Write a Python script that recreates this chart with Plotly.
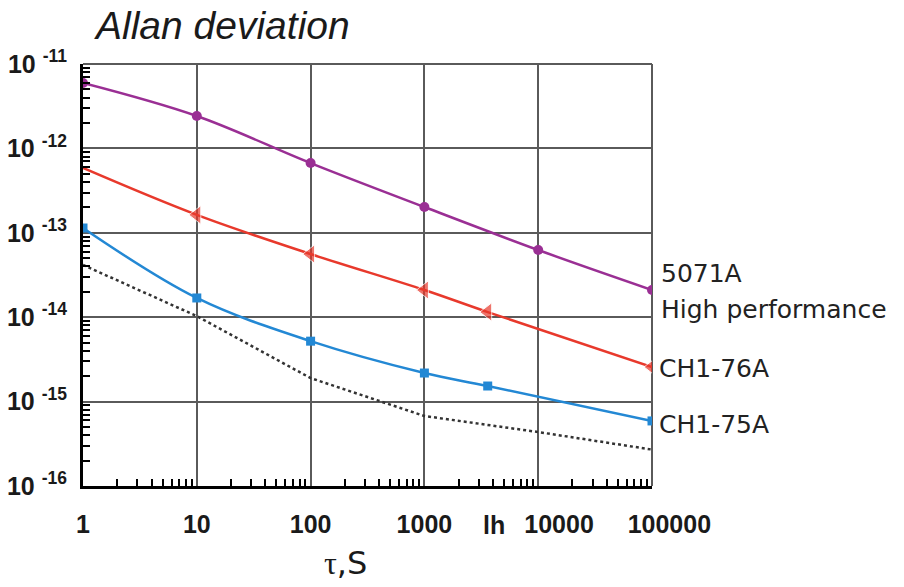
import math
import plotly.graph_objects as go

# ---- data ----
tau_5071a = [1, 10, 100, 1000, 10000, 100000]
adev_5071a = [5.96e-12, 2.42e-12, 6.7e-13, 2.02e-13, 6.25e-14, 2.1e-14]

tau_76a = [1, 10, 100, 1000, 3600, 100000]
adev_76a = [5.86e-13, 1.63e-13, 5.6e-14, 2.1e-14, 1.15e-14, 2.57e-15]
marker_76a = [False, True, True, True, True, True]

tau_75a = [1, 10, 100, 1000, 3600, 100000]
adev_75a = [1.14e-13, 1.69e-14, 5.2e-15, 2.18e-15, 1.53e-15, 5.9e-16]

tau_floor = [1, 10, 100, 1000, 10000, 100000]
adev_floor = [4.16e-14, 1.03e-14, 1.9e-15, 6.75e-16, 4.36e-16, 2.7e-16]

x_tick_vals = [1, 10, 100, 1000, 10000, 100000]
x_tick_text = ["1", "10", "100", "1000", "10000", "100000"]
x_tick_pad = [0, 0, 0, 0, 6, 5]   # labels drawn a little right of their gridline
one_hour = 3600
one_hour_label = "lh"

y_exponents = [-16, -15, -14, -13, -12, -11]

series_labels = ["5071A", "High performance", "CH1-76A", "CH1-75A"]
title_text = "Allan deviation"

# ---- build figure ----
PURPLE = "#9a2f94"
RED = "#e8392c"
BLUE = "#2388d4"
GRID = "#5a5a5a"

fig = go.Figure()

fig.add_trace(go.Scatter(
    x=tau_floor, y=adev_floor, mode="lines",
    line=dict(color="#333333", width=2.5, dash="dot"),
    hoverinfo="skip", showlegend=False))

fig.add_trace(go.Scatter(
    x=tau_5071a, y=adev_5071a, mode="lines+markers",
    line=dict(color=PURPLE, width=2.5, shape="spline"),
    marker=dict(symbol="circle", size=10, color=PURPLE),
    showlegend=False))

fig.add_trace(go.Scatter(
    x=tau_76a, y=adev_76a, mode="lines+markers",
    line=dict(color=RED, width=2.5, shape="spline"),
    marker=dict(symbol="triangle-left", color=RED,
                size=[16 if m else 0 for m in marker_76a]),
    showlegend=False))

fig.add_trace(go.Scatter(
    x=tau_75a, y=adev_75a, mode="lines+markers",
    line=dict(color=BLUE, width=2.5, shape="spline"),
    marker=dict(symbol="square", size=9, color=BLUE),
    showlegend=False))

minor_x = [m * 10 ** d for d in range(0, 5) for m in range(2, 10)]
minor_y = [m * 10.0 ** d for d in range(-16, -11) for m in range(2, 10)]

tick_font = dict(family="Liberation Sans", size=25, color="#1a1a1a", weight="bold")

fig.update_xaxes(
    type="log", range=[0, 5], automargin=False,
    tickmode="array", tickvals=x_tick_vals,
    ticktext=["\u00a0" * p + t for t, p in zip(x_tick_text, x_tick_pad)],
    tickangle=0,
    ticks="", tickfont=tick_font, ticklabelstandoff=14,
    showgrid=True, gridcolor=GRID, gridwidth=2,
    showline=True, linecolor="black", linewidth=3, zeroline=False,
    minor=dict(tickmode="array", tickvals=minor_x, ticks="inside",
               ticklen=7, tickwidth=2, tickcolor="black", showgrid=False),
)
fig.update_yaxes(
    type="log", range=[-16, -11], automargin=False,
    tickmode="array", tickvals=[10.0 ** e for e in y_exponents],
    ticktext=[f"10 <sup>{e}</sup>" for e in y_exponents],
    ticks="", tickfont=tick_font, ticklabelstandoff=8,
    showgrid=True, gridcolor=GRID, gridwidth=2,
    showline=True, linecolor="black", linewidth=3, zeroline=False,
    minor=dict(tickmode="array", tickvals=minor_y, ticks="inside",
               ticklen=7, tickwidth=2, tickcolor="black", showgrid=False),
)

label_font = dict(family="DejaVu Sans", size=25, color="#222222")
ann = [
    dict(text=title_text, xref="paper", yref="paper", x=0.0158, y=1.091,
         xanchor="left", yanchor="middle", showarrow=False,
         font=dict(family="Liberation Sans", size=39, color="#1a1a1a", style="italic")),
    dict(text=series_labels[0], xref="paper", yref="paper", x=1.012, y=0.5047,
         xanchor="left", yanchor="middle", showarrow=False, font=label_font),
    dict(text=series_labels[1], xref="paper", yref="paper", x=1.012, y=0.4194,
         xanchor="left", yanchor="middle", showarrow=False, font=label_font),
    dict(text=series_labels[2], xref="paper", yref="paper", x=1.008, y=0.2796,
         xanchor="left", yanchor="middle", showarrow=False, font=label_font),
    dict(text=series_labels[3], xref="paper", yref="paper", x=1.008, y=0.1469,
         xanchor="left", yanchor="middle", showarrow=False, font=label_font),
    dict(text=one_hour_label, xref="x", yref="paper", x=math.log10(one_hour), y=-0.0924,
         xshift=6, xanchor="center", yanchor="middle", showarrow=False, font=tick_font),
    dict(text="<span style='font-family:Liberation Serif'>τ</span>,S",
         xref="paper", yref="paper", x=0.462, y=-0.182,
         xanchor="center", yanchor="middle", showarrow=False,
         font=dict(family="DejaVu Sans", size=32, color="#1a1a1a")),
]

fig.update_layout(
    width=904, height=587,
    margin=dict(l=83, r=252, t=64, b=101),
    paper_bgcolor="white", plot_bgcolor="white",
    annotations=ann,
    shapes=[
        dict(type="line", xref="paper", yref="paper", x0=0, x1=1, y0=1, y1=1,
             line=dict(color=GRID, width=2), layer="below"),
        dict(type="line", xref="paper", yref="paper", x0=1, x1=1, y0=0, y1=1,
             line=dict(color=GRID, width=2), layer="below"),
    ],
)

# remove the default 8 px page margin so the figure fills the window exactly
fig.write_html("out.html",
               config={"displayModeBar": False},
               post_script="document.body.style.margin='0';document.body.style.overflow='hidden';")
